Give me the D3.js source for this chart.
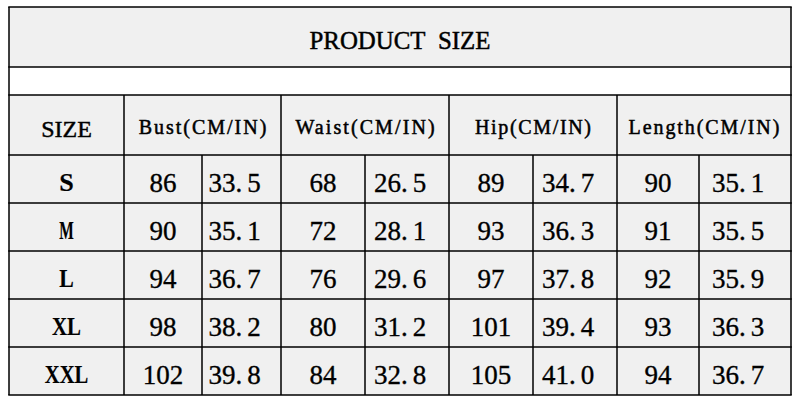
<!DOCTYPE html>
<html>
<head>
<meta charset="utf-8">
<script src="https://cdn.jsdelivr.net/npm/d3@7"></script>
<style>
  html, body { margin: 0; padding: 0; background: #fff; }
</style>
</head>
<body>
<div class="canvas"></div>
<script>
const WIDTH = 802;
const HEIGHT = 404;

// data
const title = 'PRODUCT SIZE';
const sizeHeader = 'SIZE';
const sizes = ['S', 'M', 'L', 'XL', 'XXL'];
const measures = ['Bust(CM/IN)', 'Waist(CM/IN)', 'Hip(CM/IN)', 'Length(CM/IN)'];
const bustCm = ['86', '90', '94', '98', '102'];
const bustIn = ['33.5', '35.1', '36.7', '38.2', '39.8'];
const waistCm = ['68', '72', '76', '80', '84'];
const waistIn = ['26.5', '28.1', '29.6', '31.2', '32.8'];
const hipCm = ['89', '93', '97', '101', '105'];
const hipIn = ['34.7', '36.3', '37.8', '39.4', '41.0'];
const lengthCm = ['90', '91', '92', '93', '94'];
const lengthIn = ['35.1', '35.5', '35.9', '36.3', '36.7'];

// colors
const cellFill = '#f0f0f0';
const lineColor = '#000';
const textColor = '#000';
const serif = '"Liberation Serif", "DejaVu Serif", serif';

// layout
const colKeys = ['size', 'bustCm', 'bustIn', 'waistCm', 'waistIn', 'hipCm', 'hipIn', 'lengthCm', 'lengthIn'];
const colEdges = [9, 124, 202, 281, 365, 449, 533, 617, 699, 791];
const titleRow = [7, 67];
const spacerRow = [67, 95];
const headerRow = [95, 155];

const columns = [
  { key: 'bustCm', values: bustCm, unit: 'cm' },
  { key: 'bustIn', values: bustIn, unit: 'in' },
  { key: 'waistCm', values: waistCm, unit: 'cm' },
  { key: 'waistIn', values: waistIn, unit: 'in' },
  { key: 'hipCm', values: hipCm, unit: 'cm' },
  { key: 'hipIn', values: hipIn, unit: 'in' },
  { key: 'lengthCm', values: lengthCm, unit: 'cm' },
  { key: 'lengthIn', values: lengthIn, unit: 'in' }
];

// scales
const xLeft = d3.scaleOrdinal().domain(colKeys).range(colEdges.slice(0, -1));
const xRight = d3.scaleOrdinal().domain(colKeys).range(colEdges.slice(1));
const xMid = k => (xLeft(k) + xRight(k)) / 2;

const y = d3.scaleBand()
  .domain(sizes)
  .range([headerRow[1], 395])
  .padding(0);

const left = colEdges[0];
const right = colEdges[colEdges.length - 1];

const svg = d3.select('.canvas')
  .append('svg')
    .attr('width', WIDTH)
    .attr('height', HEIGHT);

// backgrounds
const bg = svg.append('g');
bg.append('rect')
  .attr('x', left).attr('y', titleRow[0])
  .attr('width', right - left).attr('height', titleRow[1] - titleRow[0])
  .attr('fill', cellFill);
bg.append('rect')
  .attr('x', left).attr('y', spacerRow[0])
  .attr('width', right - left).attr('height', spacerRow[1] - spacerRow[0])
  .attr('fill', '#fff');
bg.append('rect')
  .attr('x', left).attr('y', headerRow[0])
  .attr('width', right - left).attr('height', y.range()[1] - headerRow[0])
  .attr('fill', cellFill);

// grid lines
const lines = svg.append('g')
  .attr('stroke', lineColor)
  .attr('stroke-width', 1.5)
  .attr('fill', 'none');

const hLines = [titleRow[0], spacerRow[0], headerRow[0], ...sizes.map(s => y(s)), y.range()[1]];
lines.selectAll('line.h')
  .data(hLines)
  .enter().append('line')
    .attr('class', 'h')
    .attr('x1', left - 0.75).attr('x2', right + 0.75)
    .attr('y1', d => d).attr('y2', d => d);

// outer verticals over whole table
lines.selectAll('line.outer')
  .data([left, right])
  .enter().append('line')
    .attr('class', 'outer')
    .attr('x1', d => d).attr('x2', d => d)
    .attr('y1', titleRow[0]).attr('y2', y.range()[1]);

// verticals from header down (group boundaries)
const groupKeys = ['bustCm', 'waistCm', 'hipCm', 'lengthCm'];
lines.selectAll('line.group')
  .data(groupKeys)
  .enter().append('line')
    .attr('class', 'group')
    .attr('x1', d => xLeft(d)).attr('x2', d => xLeft(d))
    .attr('y1', headerRow[0]).attr('y2', y.range()[1]);

// verticals inside groups (data rows only)
const innerKeys = ['bustIn', 'waistIn', 'hipIn', 'lengthIn'];
lines.selectAll('line.inner')
  .data(innerKeys)
  .enter().append('line')
    .attr('class', 'inner')
    .attr('x1', d => xLeft(d)).attr('x2', d => xLeft(d))
    .attr('y1', headerRow[1]).attr('y2', y.range()[1]);

// text (thin stroke to get the heavier look of the original)
const txt = svg.append('g')
  .attr('font-family', serif)
  .attr('fill', textColor)
  .attr('stroke', textColor)
  .attr('stroke-width', 0.35);

txt.append('text')
  .attr('x', (left + right) / 2)
  .attr('y', 49)
  .attr('text-anchor', 'middle')
  .attr('font-size', 26)
  .attr('word-spacing', 7)
  .attr('stroke-width', 0.5)
  .attr('textLength', 181)
  .attr('lengthAdjust', 'spacingAndGlyphs')
  .text(title);

txt.append('text')
  .attr('x', xMid('size'))
  .attr('y', 137)
  .attr('text-anchor', 'middle')
  .attr('font-size', 24)
  .attr('stroke-width', 0.45)
  .text(sizeHeader);

txt.selectAll('text.measure')
  .data(measures)
  .enter().append('text')
    .attr('class', 'measure')
    .attr('x', (d, i) => (xLeft(groupKeys[i]) + xRight(innerKeys[i])) / 2)
    .attr('y', 134)
    .attr('text-anchor', 'middle')
    .attr('font-size', 20)
    .attr('stroke-width', 0.5)
    .attr('textLength', d => d.length * 11.6)
    .attr('lengthAdjust', 'spacing')
    .text(d => d);

// size labels: narrow bold, like a CJK font's half-width latin
txt.selectAll('text.size')
  .data(sizes)
  .enter().append('text')
    .attr('class', 'size')
    .attr('x', xMid('size'))
    .attr('y', d => y(d) + 36)
    .attr('text-anchor', 'middle')
    .attr('font-size', 26)
    .attr('font-weight', 'bold')
    .attr('stroke-width', 0.2)
    .attr('textLength', d => d.length * 14.5)
    .attr('lengthAdjust', 'spacingAndGlyphs')
    .text(d => d);

columns.forEach(col => {
  const cx = col.unit === 'cm' ? xMid(col.key) : xMid(col.key) - 7;
  const t = txt.selectAll(`text.${col.key}`)
    .data(col.values)
    .enter().append('text')
      .attr('class', col.key)
      .attr('x', cx)
      .attr('y', (d, i) => y(sizes[i]) + 36.5)
      .attr('text-anchor', 'middle')
      .attr('font-size', 27);

  t.each(function(d) {
    const el = d3.select(this);
    const parts = d.split('.');
    el.append('tspan').text(parts[0]);
    if (parts.length > 1) {
      el.append('tspan').text('.');
      el.append('tspan').attr('dx', 5).text(parts[1]);
    }
  });
});
</script>
</body>
</html>
